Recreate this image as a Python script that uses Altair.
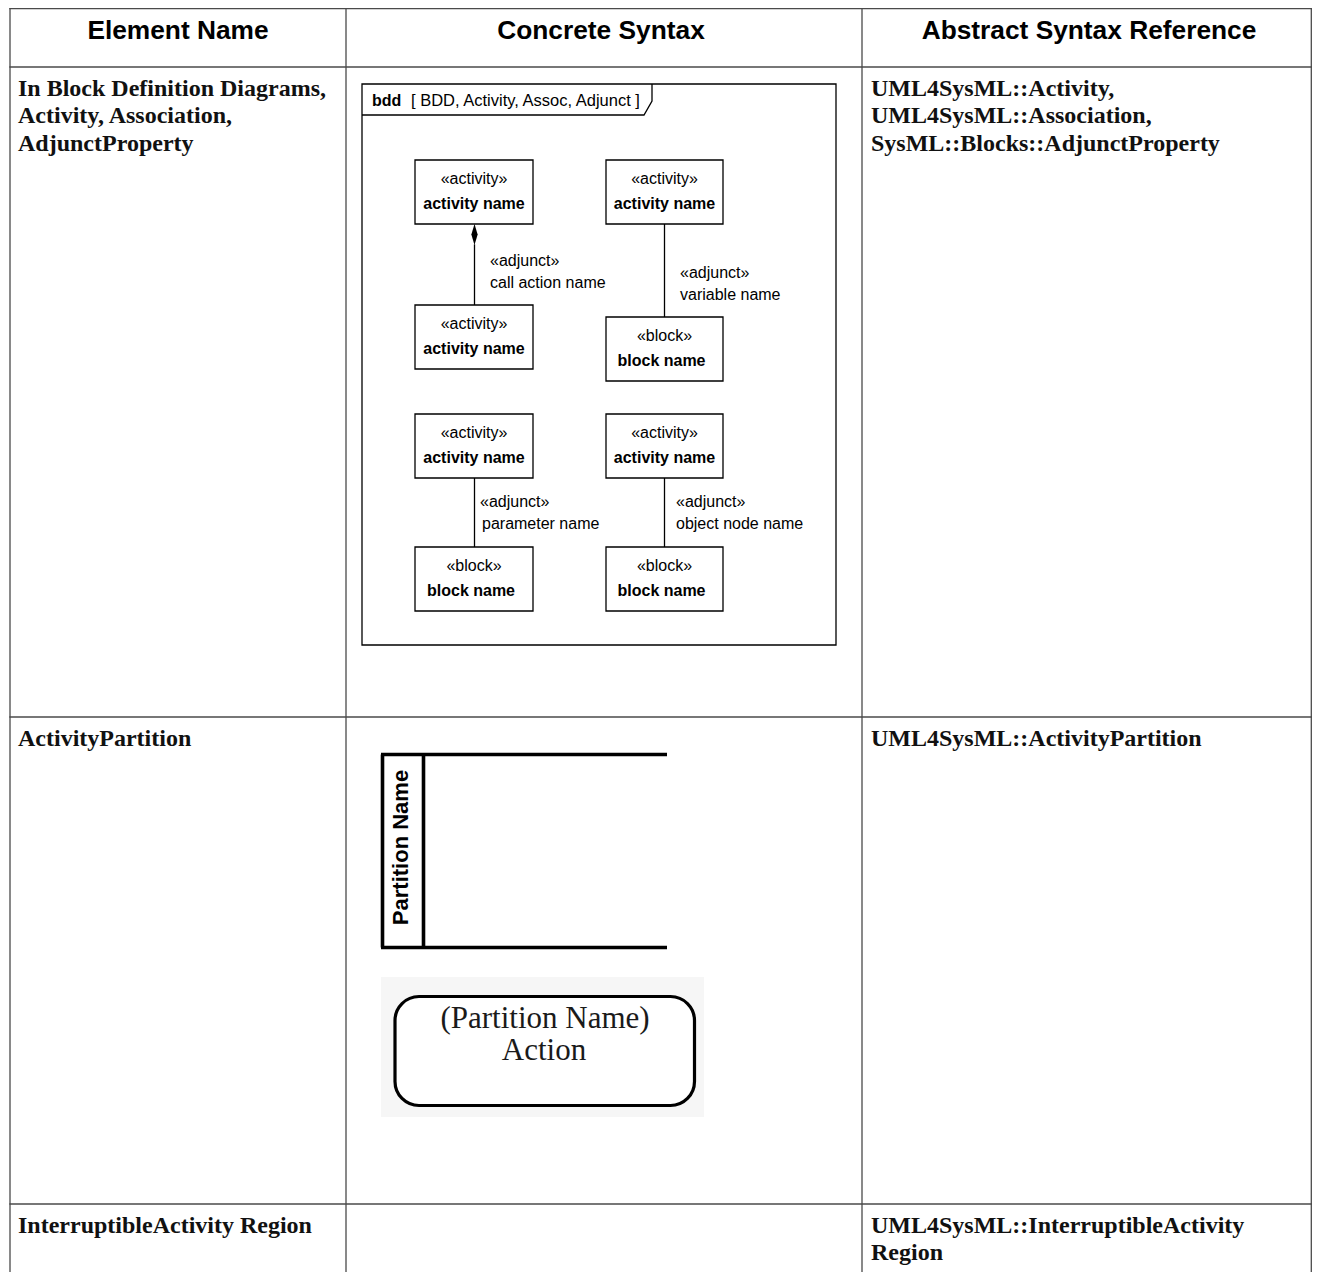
import altair as alt
import pandas as pd

# ---------------- content ----------------
header_titles = ["Element Name", "Concrete Syntax", "Abstract Syntax Reference"]
element_names = [
    ["In Block Definition Diagrams,", "Activity, Association,", "AdjunctProperty"],
    ["ActivityPartition"],
    ["InterruptibleActivity Region"],
]
abstract_refs = [
    ["UML4SysML::Activity,", "UML4SysML::Association,", "SysML::Blocks::AdjunctProperty"],
    ["UML4SysML::ActivityPartition"],
    ["UML4SysML::InterruptibleActivity", "Region"],
]

frame_keyword = "bdd"
frame_title = "[ BDD, Activity, Assoc, Adjunct ]"
box_stereotypes = ["«activity»", "«activity»", "«activity»", "«block»",
                   "«activity»", "«activity»", "«block»", "«block»"]
box_names = ["activity name", "activity name", "activity name", "block name",
             "activity name", "activity name", "block name", "block name"]
link_roles = [["«adjunct»", "call action name"], ["«adjunct»", "variable name"],
              ["«adjunct»", "parameter name"], ["«adjunct»", "object node name"]]
partition_label = "Partition Name"
action_lines = ["(Partition Name)", "Action"]

# ---------------- layout (page pixels) ----------------
W, H = 1304, 1264
col_edges = [10, 346, 862, 1311.3]
row_edges = [8.7, 67, 717, 1204]
table_bottom = 1284
header_centers = [178, 601, 1089]
left_text_x, right_text_x = 18, 871
line_gap = 27.3

frame_box = [362, 84, 836, 645]
tab_path_x = [362, 644, 652, 652]
tab_path_y = [115, 115, 101, 84]
box_x1 = [415, 606, 415, 606, 415, 606, 415, 606]
box_x2 = [533, 723, 533, 723, 533, 723, 533, 723]
box_y1 = [160, 160, 305, 317, 414, 414, 547, 547]
box_y2 = [224, 224, 369, 381, 478, 478, 611, 611]
link_x = [474.5, 664.5, 474.5, 664.5]
link_y1 = [245, 224, 478, 478]
link_y2 = [305, 317, 547, 547]
role_x = [490, 680, 480, 676]
role_y = [261, 273, 502, 502]

xs = alt.Scale(domain=[8, 8 + W], nice=False, zero=False)
ys = alt.Scale(domain=[8, 8 + H], nice=False, zero=False, reverse=True)


def X(f="x"):
    return alt.X(f"{f}:Q", scale=xs, axis=None)


def Y(f="y"):
    return alt.Y(f"{f}:Q", scale=ys, axis=None)


def rules(df, color, width):
    return alt.Chart(df).mark_rule(color=color, strokeWidth=width, strokeCap="square").encode(
        x=X(), y=Y(), x2="x2:Q", y2="y2:Q")


def texts(df, **mk):
    return alt.Chart(df).mark_text(**mk).encode(x=X(), y=Y(), text="t:N")


layers = []

# ---- table grid ----
grid = []
for cx in col_edges:
    grid.append(dict(x=cx, y=row_edges[0], x2=cx, y2=table_bottom))
for ry in row_edges:
    grid.append(dict(x=col_edges[0], y=ry, x2=col_edges[-1], y2=ry))
layers.append(rules(pd.DataFrame(grid), "#4a4a4a", 1.3))

# ---- headers ----
hdr = pd.DataFrame(dict(x=header_centers, y=[30.5] * 3, t=header_titles))
layers.append(texts(hdr, font="Liberation Sans", fontSize=26.3, fontWeight="bold",
                    align="center", baseline="middle", color="#000"))

# ---- body text ----
body = []
for i, lines in enumerate(element_names):
    for j, ln in enumerate(lines):
        body.append(dict(x=left_text_x, y=row_edges[i + 1] + 22 + j * line_gap, t=ln))
for i, lines in enumerate(abstract_refs):
    for j, ln in enumerate(lines):
        body.append(dict(x=right_text_x, y=row_edges[i + 1] + 22 + j * line_gap, t=ln))
layers.append(texts(pd.DataFrame(body), font="Liberation Serif", fontSize=24,
                    fontWeight="bold", align="left", baseline="middle", color="#111"))

# ---- bdd frame ----
frame = pd.DataFrame([dict(x=frame_box[0], y=frame_box[1], x2=frame_box[2], y2=frame_box[3])])
layers.append(alt.Chart(frame).mark_rect(fill="white", stroke="black", strokeWidth=1.3).encode(
    x=X(), y=Y(), x2="x2:Q", y2="y2:Q"))
tab = pd.DataFrame(dict(x=tab_path_x, y=tab_path_y, o=list(range(4))))
layers.append(alt.Chart(tab).mark_line(color="black", strokeWidth=1.3).encode(
    x=X(), y=Y(), order="o:Q"))
layers.append(texts(pd.DataFrame([dict(x=372, y=101, t=frame_keyword)]),
                    font="Liberation Sans", fontSize=16, fontWeight="bold",
                    align="left", baseline="middle", color="#000"))
layers.append(texts(pd.DataFrame([dict(x=411, y=101, t=frame_title)]),
                    font="Liberation Sans", fontSize=16.5, align="left",
                    baseline="middle", color="#000"))

# ---- links ----
links = pd.DataFrame(dict(x=link_x, y=link_y1, x2=link_x, y2=link_y2))
layers.append(rules(links, "black", 1.3))
diamond = pd.DataFrame([dict(x=474.5, y=234.5)])
layers.append(alt.Chart(diamond).mark_point(
    shape="M0,-1L0.3,0L0,1L-0.3,0Z", size=441, filled=True, color="black", opacity=1).encode(
    x=X(), y=Y()))
roles = []
for k, (a, b) in enumerate(link_roles):
    roles.append(dict(x=role_x[k], y=role_y[k], t=a))
    roles.append(dict(x=role_x[k] + (2 if k == 2 else 0), y=role_y[k] + 22, t=b))
layers.append(texts(pd.DataFrame(roles), font="Liberation Sans", fontSize=16,
                    align="left", baseline="middle", color="#000"))

# ---- boxes ----
boxes = pd.DataFrame(dict(x=box_x1, y=box_y1, x2=box_x2, y2=box_y2))
layers.append(alt.Chart(boxes).mark_rect(fill="white", stroke="black", strokeWidth=1.3).encode(
    x=X(), y=Y(), x2="x2:Q", y2="y2:Q"))
st = pd.DataFrame(dict(x=[(a + b) / 2 for a, b in zip(box_x1, box_x2)],
                       y=[v + 18.5 for v in box_y1], t=box_stereotypes))
layers.append(texts(st, font="Liberation Sans", fontSize=16, align="center",
                    baseline="middle", color="#000"))
nm = pd.DataFrame(dict(x=[(a + b) / 2 - (3 if n.startswith("block") else 0)
                          for a, b, n in zip(box_x1, box_x2, box_names)],
                       y=[v + 43.5 for v in box_y1], t=box_names))
layers.append(texts(nm, font="Liberation Sans", fontSize=16, fontWeight="bold",
                    align="center", baseline="middle", color="#000"))

# ---- activity partition ----
part = pd.DataFrame([
    dict(x=381, y=754.5, x2=667, y2=754.5),
    dict(x=381, y=947.5, x2=667, y2=947.5),
    dict(x=382.5, y=754.5, x2=382.5, y2=947.5),
    dict(x=423.5, y=754.5, x2=423.5, y2=947.5),
])
layers.append(alt.Chart(part).mark_rule(color="black", strokeWidth=3.6).encode(
    x=X(), y=Y(), x2="x2:Q", y2="y2:Q"))
layers.append(texts(pd.DataFrame([dict(x=401, y=847.5, t=partition_label)]),
                    font="Liberation Sans", fontSize=22, fontWeight="bold", angle=270,
                    align="center", baseline="middle", color="#000"))

# ---- action with partition name ----
bg = pd.DataFrame([dict(x=381, y=977, x2=704, y2=1117)])
layers.append(alt.Chart(bg).mark_rect(fill="#f6f6f6").encode(x=X(), y=Y(), x2="x2:Q", y2="y2:Q"))
act = pd.DataFrame([dict(x=395, y=996.5, x2=694.5, y2=1105.5)])
layers.append(alt.Chart(act).mark_rect(fill="white", stroke="black", strokeWidth=3.2,
                                      cornerRadius=24).encode(
    x=X(), y=Y(), x2="x2:Q", y2="y2:Q"))
al = pd.DataFrame(dict(x=[545, 544], y=[1028, 1060], t=action_lines))
layers.append(texts(al, font="Liberation Serif", fontSize=31, align="center",
                    baseline="alphabetic", color="#1a1a1a"))

chart = alt.layer(*layers).properties(
    width=W, height=H, autosize=alt.AutoSizeParams(type="none"), padding=0,
    background="white",
).configure_view(stroke=None)

chart.save("out.html", embed_options={"renderer": "svg", "actions": False})
